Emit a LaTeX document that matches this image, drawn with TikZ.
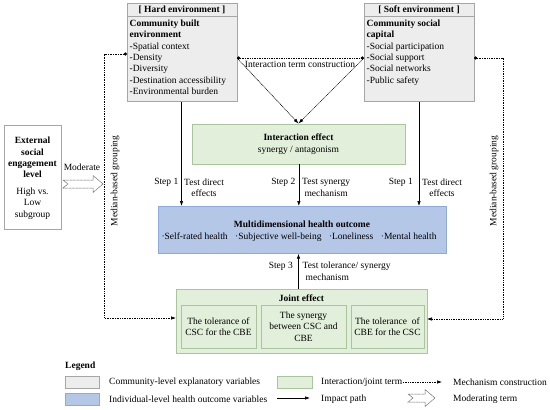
\documentclass[tikz,border=0pt]{standalone}
\usepackage{fontspec}
\setmainfont{Liberation Serif}
\usetikzlibrary{arrows.meta}
\definecolor{grayfill}{HTML}{EDEDED}
\definecolor{graybd}{HTML}{A6A6A6}
\definecolor{greenfill}{HTML}{E2EFDA}
\definecolor{greenbd}{HTML}{A9C59B}
\definecolor{bluefill}{HTML}{B4C7E7}
\definecolor{bluebd}{HTML}{8EA9DB}
\tikzset{
  x=1pt, y=-1pt,
  every node/.style={font=\fontsize{9.5}{11.4}\selectfont, inner sep=0pt},
  graybox/.style={draw=graybd, fill=grayfill, line width=0.7pt},
  greenbox/.style={draw=greenbd, fill=greenfill, line width=0.7pt},
  bluebox/.style={draw=bluebd, fill=bluefill, line width=0.7pt},
  whitebox/.style={draw=graybd, fill=white, line width=0.7pt},
  impact/.style={line width=0.6pt, -{Latex[length=5pt,width=3.5pt]}},
  mech/.style={line width=0.6pt, dash pattern=on 1pt off 0.7pt, -{Latex[length=5pt,width=3.5pt]}},
  dotstart/.style={{Circle[length=3.2pt]}-{Latex[length=5pt,width=3.5pt]}},
  hollow/.style={draw=black!60, line width=0.5pt, dash pattern=on 1pt off 0.4pt, fill=white},
  modarr/.pic={\draw[hollow] (0,-4) -- (#1-10,-4) -- (#1-10,-8.5) -- (#1,0) -- (#1-10,8.5) -- (#1-10,4) -- (0,4) -- (5,0) -- cycle;},
}
\begin{document}
\begin{tikzpicture}
\useasboundingbox (0,0) rectangle (550,410);

% Hard environment
\node[graybox, minimum width=110pt, minimum height=98pt, anchor=north west] (hard) at (127,3) {};
\draw[graybd, line width=0.7pt] ([yshift=-13pt]hard.north west) -- ([yshift=-13pt]hard.north east);
\node[font=\fontsize{9.5}{11.4}\selectfont\bfseries] (hardt) at (182,10) {[ Hard environment ]};
\node[anchor=north west, align=left] (hardb) at (129.5,19.5) {\textbf{Community built}\\\textbf{environment}\\-Spatial context\\-Density\\-Diversity\\-Destination accessibility\\-Environmental burden};

% Soft environment
\node[graybox, minimum width=110pt, minimum height=98pt, anchor=north west] (soft) at (364,3) {};
\draw[graybd, line width=0.7pt] ([yshift=-13pt]soft.north west) -- ([yshift=-13pt]soft.north east);
\node[font=\fontsize{9.5}{11.4}\selectfont\bfseries] (softt) at (419,10) {[ Soft environment ]};
\node[anchor=north west, align=left] (softb) at (366.5,19.5) {\textbf{Community social}\\\textbf{capital}\\-Social participation\\-Social support\\-Social networks\\-Public safety};

% Interaction effect
\node[greenbox, minimum width=213pt, minimum height=40pt, anchor=north west] (inter) at (192,123.5) {};
\node[font=\fontsize{9.5}{11.4}\selectfont\bfseries] (intert) at (298.5,137) {Interaction effect};
\node (interb) at (298.5,150.5) {synergy / antagonism};

% Health outcome
\node[bluebox, minimum width=288pt, minimum height=47pt, anchor=north west] (health) at (158,206) {};
\node[font=\fontsize{9.5}{11.4}\selectfont\bfseries] (healtht) at (302,224) {Multidimensional health outcome};
\node (healthb) at (299,237.5) {·Self-rated health\hspace{7.5pt}·Subjective well-being\hspace{7.5pt}·Loneliness\hspace{7.5pt}·Mental health};

% Joint effect
\node[greenbox, minimum width=251pt, minimum height=64pt, anchor=north west] (joint) at (176,289) {};
\node[font=\fontsize{9.5}{11.4}\selectfont\bfseries] (jointt) at (301.5,298) {Joint effect};
\node[greenbox, minimum width=75pt, minimum height=43pt, align=center] (tol1) at (218.5,326.5) {The tolerance of\\CSC for the CBE};
\node[greenbox, minimum width=85pt, minimum height=43pt, align=center] (syn) at (303.5,326.5) {The synergy\\between CSC and\\CBE};
\node[greenbox, minimum width=73pt, minimum height=43pt, align=center] (tol2) at (387.5,326.5) {The tolerance\ \ of\\CBE for the CSC};

% External box
\node[whitebox, minimum width=57pt, minimum height=104pt, anchor=north west] (ext) at (4,125) {};
\node[anchor=north, align=center] (extt) at (32.5,137) {\textbf{External}\\\textbf{social}\\\textbf{engagement}\\\textbf{level}\\[5pt]High vs.\\Low\\subgroup};
\node (modt) at (82,167) {Moderate};
\pic at (63,184) {modarr=40};

% Interaction term construction
\coordinate (hR) at (237,58);
\coordinate (sL) at (364,58);
\coordinate (hL) at (127,54);
\coordinate (sR) at (474,58);
\coordinate (itop) at (298.5,123.5);
\draw[line width=0.6pt, dash pattern=on 1pt off 0.7pt, {Circle[length=3.2pt]}-{Circle[length=3.2pt]}] (hR) -- (sL);
\node (itc) at (300,64) {Interaction term construction};
\draw[mech] (hR) -- (itop);
\draw[mech] (sL) -- (itop);

% Median-based grouping
\coordinate (lj) at (176,318);
\coordinate (rj) at (427,319);
\draw[mech, dotstart] (hL) -- (104.5,54) -- (104.5,318) -- (lj);
\draw[mech, dotstart] (sR) -- (503,58) -- (503,319) -- (rj);
\node[rotate=90] (mg1) at (115,181) {Median-based grouping};
\node[rotate=90] (mg2) at (494,181) {Median-based grouping};

% Step arrows
\draw[impact] (hard.south -| 181.5,0) -- (health.north -| 181.5,0);
\draw[impact] (inter.south) -- (health.north -| inter.south);
\draw[impact] (soft.south -| 419,0) -- (health.north -| 419,0);
\draw[impact] (joint.north -| 298.5,0) -- (health.south -| 298.5,0);

\node[anchor=east] (s1l) at (178.5,182) {Step 1};
\node[anchor=west, align=center] (s1lt) at (184,187.5) {Test direct\\effects};
\node[anchor=east] (s2) at (295.5,182) {Step 2};
\node[anchor=west, align=center] (s2t) at (302,187.5) {Test synergy\\mechanism};
\node[anchor=east] (s1r) at (413,182) {Step 1};
\node[anchor=west, align=center] (s1rt) at (422,187.5) {Test direct\\effects};
\node[anchor=east] (s3) at (293,266) {Step 3};
\node[anchor=north west, align=left] (s3t) at (302.5,262) {Test tolerance/ synergy\\\hspace{3pt}mechanism};

% Legend
\node[anchor=west, font=\fontsize{9.5}{11.4}\selectfont\bfseries] (leg) at (65,366) {Legend};
\node[graybox, minimum width=34pt, minimum height=12pt, anchor=north west] (lg1) at (65,376) {};
\node[anchor=west] (lg1t) at (109,382) {Community-level explanatory variables};
\node[bluebox, minimum width=34pt, minimum height=12pt, anchor=north west] (lg2) at (65,393) {};
\node[anchor=west] (lg2t) at (109,399) {Individual-level health outcome variables};
\node[greenbox, minimum width=35pt, minimum height=12pt, anchor=north west] (lg3) at (277,376) {};
\node[anchor=west] (lg3t) at (321,382) {Interaction/joint term};
\coordinate (lia) at (277,398);
\coordinate (lib) at (310,398);
\draw[impact] (lia) -- (lib);
\node[anchor=west] (lg4t) at (321,399) {Impact path};
\coordinate (lma) at (403,382);
\coordinate (lmb) at (442,382);
\draw[mech] (lma) -- (lmb);
\node[anchor=west] (lg5t) at (453,382) {Mechanism construction};
\pic at (408,398) {modarr=27};
\node[anchor=west] (lg6t) at (453,399) {Moderating term};
\end{tikzpicture}
\end{document}
